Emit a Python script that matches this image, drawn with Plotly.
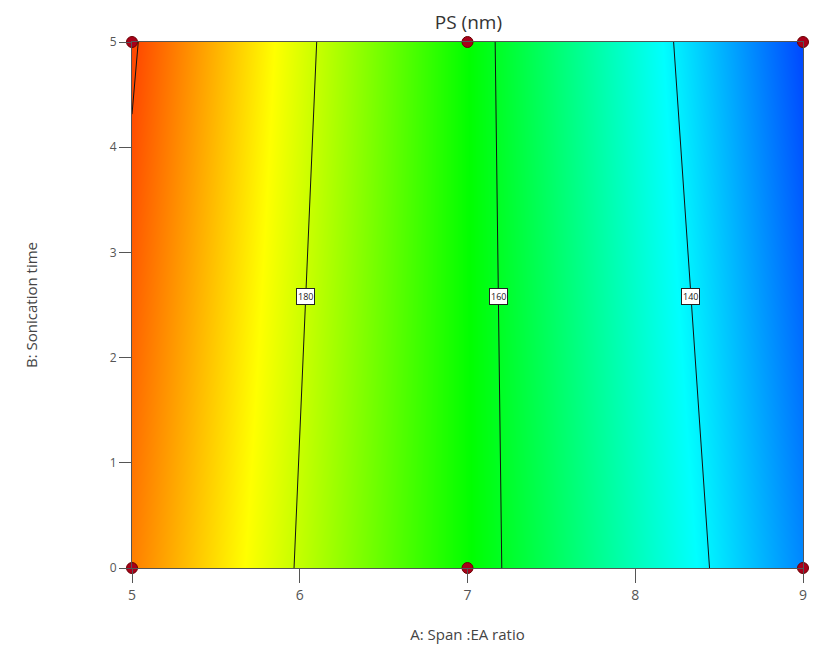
import plotly.graph_objects as go

# Design factors
A_levels = [5, 7, 9]          # A: Span :EA ratio
B_levels = [0, 5]             # B: Sonication time
# Predicted PS (nm) at the design grid, rows = B levels, cols = A levels
PS_grid = [
    [195.6, 163.3, 131.0],    # B = 0
    [200.7, 163.1, 125.5],    # B = 5
]
# Design points shown as markers
pts_A = [5, 7, 9, 5, 7, 9]
pts_B = [0, 0, 0, 5, 5, 5]
# Contour levels
contour_start, contour_end, contour_step = 140, 200, 20
label_levels = [180, 160, 140]
label_B = 2.58
# Colour range of the response colour map
color_min, color_max = 119.5, 206.5

colorscale = [
    [0.0, "rgb(0,0,255)"],
    [0.25, "rgb(0,255,255)"],
    [0.5, "rgb(0,255,0)"],
    [0.75, "rgb(255,255,0)"],
    [1.0, "rgb(255,0,0)"],
]

fig = go.Figure()
fig.add_trace(go.Heatmap(
    x=A_levels, y=B_levels, z=PS_grid, zsmooth="best",
    colorscale=colorscale, zmin=color_min, zmax=color_max, showscale=False,
    hoverinfo="skip",
))
fig.add_trace(go.Contour(
    x=A_levels, y=B_levels, z=PS_grid,
    contours=dict(coloring="none", start=contour_start, end=contour_end,
                  size=contour_step, showlabels=False),
    line=dict(color="#111111", width=1), showscale=False, hoverinfo="skip",
))
fig.add_trace(go.Scatter(
    x=pts_A, y=pts_B, mode="markers", cliponaxis=False,
    marker=dict(size=11, color="#a8001a", line=dict(color="#6a0000", width=1)),
    hoverinfo="skip", showlegend=False,
))


def crossing(row, level):
    for i in range(len(A_levels) - 1):
        z0, z1 = row[i], row[i + 1]
        if (z0 - level) * (z1 - level) <= 0 and z0 != z1:
            return A_levels[i] + (A_levels[i + 1] - A_levels[i]) * (z0 - level) / (z0 - z1)
    return None


annotations = []
for lv in label_levels:
    xb = crossing(PS_grid[0], lv)
    xt = crossing(PS_grid[1], lv)
    t = (label_B - B_levels[0]) / (B_levels[1] - B_levels[0])
    xl = xb + (xt - xb) * t
    annotations.append(dict(
        x=xl, y=label_B, xref="x", yref="y", text=str(lv), showarrow=False,
        font=dict(size=9, color="#222222", family="Open Sans"),
        bgcolor="white", bordercolor="#222222", borderwidth=1, borderpad=1,
    ))

fig.update_layout(
    width=814, height=648,
    margin=dict(l=132, r=7, t=42, b=80),
    paper_bgcolor="white", plot_bgcolor="white",
    font=dict(family="Open Sans", color="#444444"),
    title=dict(text="PS (nm)", x=0.5755, xanchor="center", y=0.966, yanchor="middle",
               font=dict(size=19, color="#333333")),
    showlegend=False,
    annotations=annotations,
    xaxis=dict(range=[5, 9], tickvals=[5, 6, 7, 8, 9], ticks="outside", ticklen=14,
               tickcolor="#555555", showgrid=False, zeroline=False,
               showline=True, linecolor="#555555", mirror=True, linewidth=1,
               tickfont=dict(size=14, color="#555555"),
               title=dict(text="A: Span :EA ratio", font=dict(size=15, color="#444444"),
                          standoff=26)),
    yaxis=dict(range=[0, 5], tickvals=[0, 1, 2, 3, 4, 5], ticks="outside", ticklen=12,
               tickcolor="#555555", showgrid=False, zeroline=False,
               showline=True, linecolor="#555555", mirror=True, linewidth=1,
               tickfont=dict(size=12, color="#555555"),
               title=dict(text="B: Sonication time", font=dict(size=15, color="#444444"),
                          standoff=68)),
)

fig.write_html("out.html")
